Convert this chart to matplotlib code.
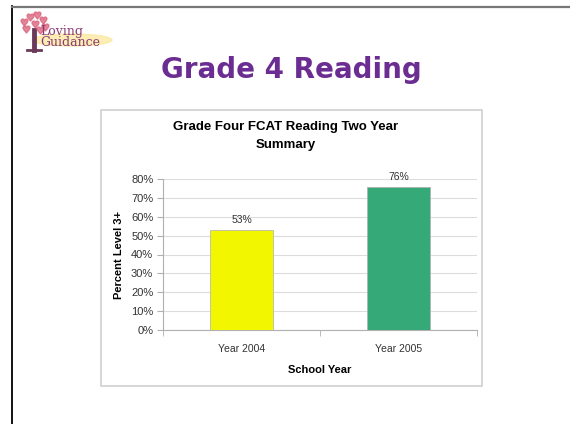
import matplotlib.pyplot as plt
from matplotlib.patches import Rectangle, Ellipse
import numpy as np

years = ['Year 2004', 'Year 2005']
pct = [53, 76]
bar_colors = ['#f2f700', '#35a977']
yticks = [0, 10, 20, 30, 40, 50, 60, 70, 80]

W, H = 570, 424
fig = plt.figure(figsize=(W / 100, H / 100), dpi=100)
fig.patch.set_facecolor('white')

# pixel helper for placing slide elements
def px(x, y):
    return x / W, 1 - y / H

# slide frame: dark left edge and grey top rule
fig.add_artist(plt.Line2D([11.5 / W, 11.5 / W], [0, 1 - 6 / H], color='black', lw=1.3))
fig.add_artist(plt.Line2D([11.5 / W, 1], [1 - 7 / H, 1 - 7 / H], color='#777777', lw=1.6))

# logo
fig.add_artist(Ellipse(px(72, 40), 80 / W, 12 / H, color='#fbe9a0', alpha=0.8))
fig.add_artist(plt.Line2D([34 / W, 34 / W], [1 - 50 / H, 1 - 30 / H], color='#6b3a5a', lw=3.5))
fig.add_artist(plt.Line2D([27 / W, 41 / W], [1 - 50 / H, 1 - 50 / H], color='#6b3a5a', lw=2))
for hx, hy in [(24, 22), (30, 17), (37, 15), (43, 20), (26, 29), (35, 24), (45, 27), (40, 30)]:
    fig.add_artist(plt.Line2D([hx / W], [1 - hy / H], marker='$\u2665$', ms=5,
                              color='#d9607a', alpha=0.75))
fig.text(*px(40, 31), 'Loving', fontsize=9, family='DejaVu Serif', color='#8a3a78',
         va='center', ha='left')
fig.text(*px(40, 43), 'Guidance', fontsize=9, family='DejaVu Serif', color='#8a3a78',
         va='center', ha='left')

# slide heading
fig.text(*px(291, 70), 'Grade 4 Reading', fontsize=20, fontweight='bold',
         color='#6b2d92', ha='center', va='center', family='DejaVu Sans')

# chart border
fig.add_artist(Rectangle((101 / W, 1 - 386 / H), 381 / W, 276 / H, fill=False,
                         ec='#d0d0d0', lw=1.2))

ax = fig.add_axes([163 / W, 1 - 330 / H, (477 - 163) / W, (330 - 179) / H])
x = np.arange(len(years))
bars = ax.bar(x, pct, width=0.4, color=bar_colors, edgecolor='#b0b0b0', lw=0.5, zorder=3)
for b, v in zip(bars, pct):
    ax.text(b.get_x() + b.get_width() / 2, v + 2.5, f'{v}%', ha='center', va='bottom',
            fontsize=7.5, family='Liberation Sans', color='#333333')

ax.set_xlim(-0.5, 1.5)
ax.set_ylim(0, 80)
ax.set_yticks(yticks)
ax.set_yticklabels([f'{t}%' for t in yticks], fontsize=8, family='Liberation Sans',
                   color='#333333')
ax.set_xticks(x)
ax.set_xticklabels(years, fontsize=7.5, family='Liberation Sans', color='#333333')
ax.set_xticks([-0.5, 0.5, 1.5], minor=True)
ax.tick_params(axis='x', which='major', length=0, pad=10)
ax.tick_params(axis='x', which='minor', length=4, color='#b0b0b0')
ax.tick_params(axis='y', length=4, color='#b0b0b0', pad=3)
ax.grid(axis='y', color='#dcdcdc', lw=0.8, zorder=0)
for s in ['top', 'right']:
    ax.spines[s].set_visible(False)
ax.spines['left'].set_color('#b0b0b0')
ax.spines['bottom'].set_color('#b0b0b0')

ax.set_ylabel('Percent Level 3+', fontsize=8, fontweight='bold', family='Liberation Sans',
              labelpad=5)
ax.set_xlabel('School Year', fontsize=8, fontweight='bold', family='Liberation Sans',
              labelpad=8)

fig.text(*px(286, 127), 'Grade Four FCAT Reading Two Year', fontsize=9.5, fontweight='bold',
         family='Liberation Sans', ha='center', va='center')
fig.text(*px(286, 145), 'Summary', fontsize=9.5, fontweight='bold',
         family='Liberation Sans', ha='center', va='center')

fig.savefig('out.png', dpi=100)
